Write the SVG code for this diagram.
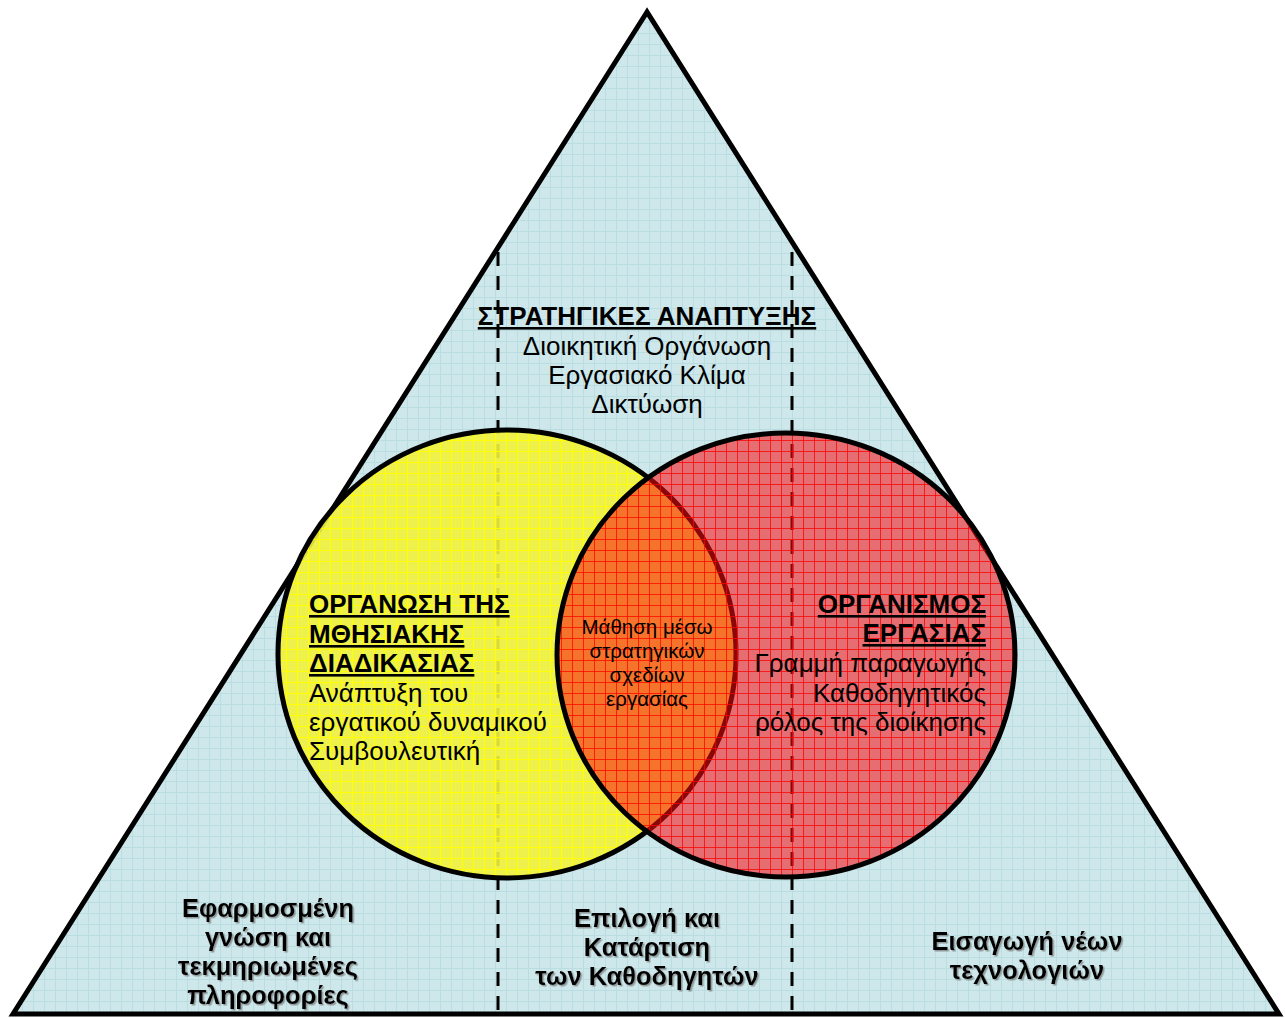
<svg xmlns="http://www.w3.org/2000/svg" width="1285" height="1018" viewBox="0 0 1285 1018">
<style>
text{font-family:"Liberation Sans",Arial,sans-serif;fill:#000;}
.t{font-size:26px;}
.b{font-weight:bold;text-decoration:underline;}
.bb{font-size:25.5px;font-weight:bold;filter:url(#sh);}
.c{font-size:20.5px;}
.dash{stroke:#000;stroke-width:3;stroke-dasharray:14 10;fill:none;}
.outline{stroke:#000;stroke-width:5;}
</style>
<defs>
<pattern id="gBlue" width="11" height="11" patternUnits="userSpaceOnUse">
<rect width="11" height="11" fill="#cde7ea"/>
<path d="M0 0.5H11M0.5 0V11" stroke="#badde2" stroke-width="1"/>
</pattern>
<pattern id="gYel" width="11" height="11" patternUnits="userSpaceOnUse">
<rect width="11" height="11" fill="#f2f23a" fill-opacity="0.9"/>
<path d="M0 0.5H11M0.5 0V11" stroke="#ffff00" stroke-width="1"/>
</pattern>
<pattern id="gRed" width="11" height="11" patternUnits="userSpaceOnUse">
<rect width="11" height="11" fill="#fa0a10" fill-opacity="0.55"/>
<path d="M0 0.5H11M0.5 0V11" stroke="#ff0000" stroke-opacity="0.75" stroke-width="1"/>
</pattern>
<filter id="sh" x="-10%" y="-10%" width="120%" height="130%">
<feDropShadow dx="1.5" dy="1.5" stdDeviation="0.6" flood-color="#777" flood-opacity="0.7"/>
</filter>
</defs>
<g id="triangle">
<polygon points="647,12 13,1014 1279,1014" fill="url(#gBlue)" class="outline" stroke-linejoin="miter"/>
</g>
<g id="connectors">
<line class="dash" x1="498" y1="252" x2="498" y2="1012"/>
<line class="dash" x1="792" y1="252" x2="792" y2="1012"/>
</g>
<g id="circle-learning">
<ellipse cx="507" cy="654" rx="229" ry="224" fill="url(#gYel)" class="outline"/>
</g>
<g id="circle-organisation">
<ellipse cx="786" cy="655" rx="229" ry="222" fill="url(#gRed)" class="outline"/>
</g>
<g id="node-strategies">
<text class="t b" x="647" y="325" text-anchor="middle">ΣΤΡΑΤΗΓΙΚΕΣ ΑΝΑΠΤΥΞΗΣ</text>
<text class="t" x="647" y="355" text-anchor="middle">Διοικητική Οργάνωση</text>
<text class="t" x="647" y="384" text-anchor="middle">Εργασιακό Κλίμα</text>
<text class="t" x="647" y="413" text-anchor="middle">Δικτύωση</text>
</g>
<g id="node-learning">
<text class="t b" x="309" y="613">ΟΡΓΑΝΩΣΗ ΤΗΣ</text>
<text class="t b" x="309" y="643">ΜΘΗΣΙΑΚΗΣ</text>
<text class="t b" x="309" y="672">ΔΙΑΔΙΚΑΣΙΑΣ</text>
<text class="t" x="309" y="702">Ανάπτυξη του</text>
<text class="t" x="309" y="731">εργατικού δυναμικού</text>
<text class="t" x="309" y="760">Συμβουλευτική</text>
</g>
<g id="node-intersection">
<text class="c" x="647" y="634" text-anchor="middle">Μάθηση μέσω</text>
<text class="c" x="647" y="658" text-anchor="middle">στρατηγικών</text>
<text class="c" x="647" y="682" text-anchor="middle">σχεδίων</text>
<text class="c" x="647" y="706" text-anchor="middle">εργασίας</text>
</g>
<g id="node-organisation">
<text class="t b" x="986" y="613" text-anchor="end">ΟΡΓΑΝΙΣΜΟΣ</text>
<text class="t b" x="986" y="642" text-anchor="end">ΕΡΓΑΣΙΑΣ</text>
<text class="t" x="986" y="672" text-anchor="end">Γραμμή παραγωγής</text>
<text class="t" x="986" y="702" text-anchor="end">Καθοδηγητικός</text>
<text class="t" x="986" y="731" text-anchor="end">ρόλος της διοίκησης</text>
</g>
<g id="node-knowledge">
<text class="bb" x="268" y="917" text-anchor="middle">Εφαρμοσμένη</text>
<text class="bb" x="268" y="946" text-anchor="middle">γνώση και</text>
<text class="bb" x="268" y="975" text-anchor="middle">τεκμηριωμένες</text>
<text class="bb" x="268" y="1004" text-anchor="middle">πληροφορίες</text>
</g>
<g id="node-selection">
<text class="bb" x="647" y="927" text-anchor="middle">Επιλογή και</text>
<text class="bb" x="647" y="956" text-anchor="middle">Κατάρτιση</text>
<text class="bb" x="647" y="985" text-anchor="middle">των Καθοδηγητών</text>
</g>
<g id="node-technology">
<text class="bb" x="1027" y="950" text-anchor="middle">Εισαγωγή νέων</text>
<text class="bb" x="1027" y="979" text-anchor="middle">τεχνολογιών</text>
</g>
</svg>
